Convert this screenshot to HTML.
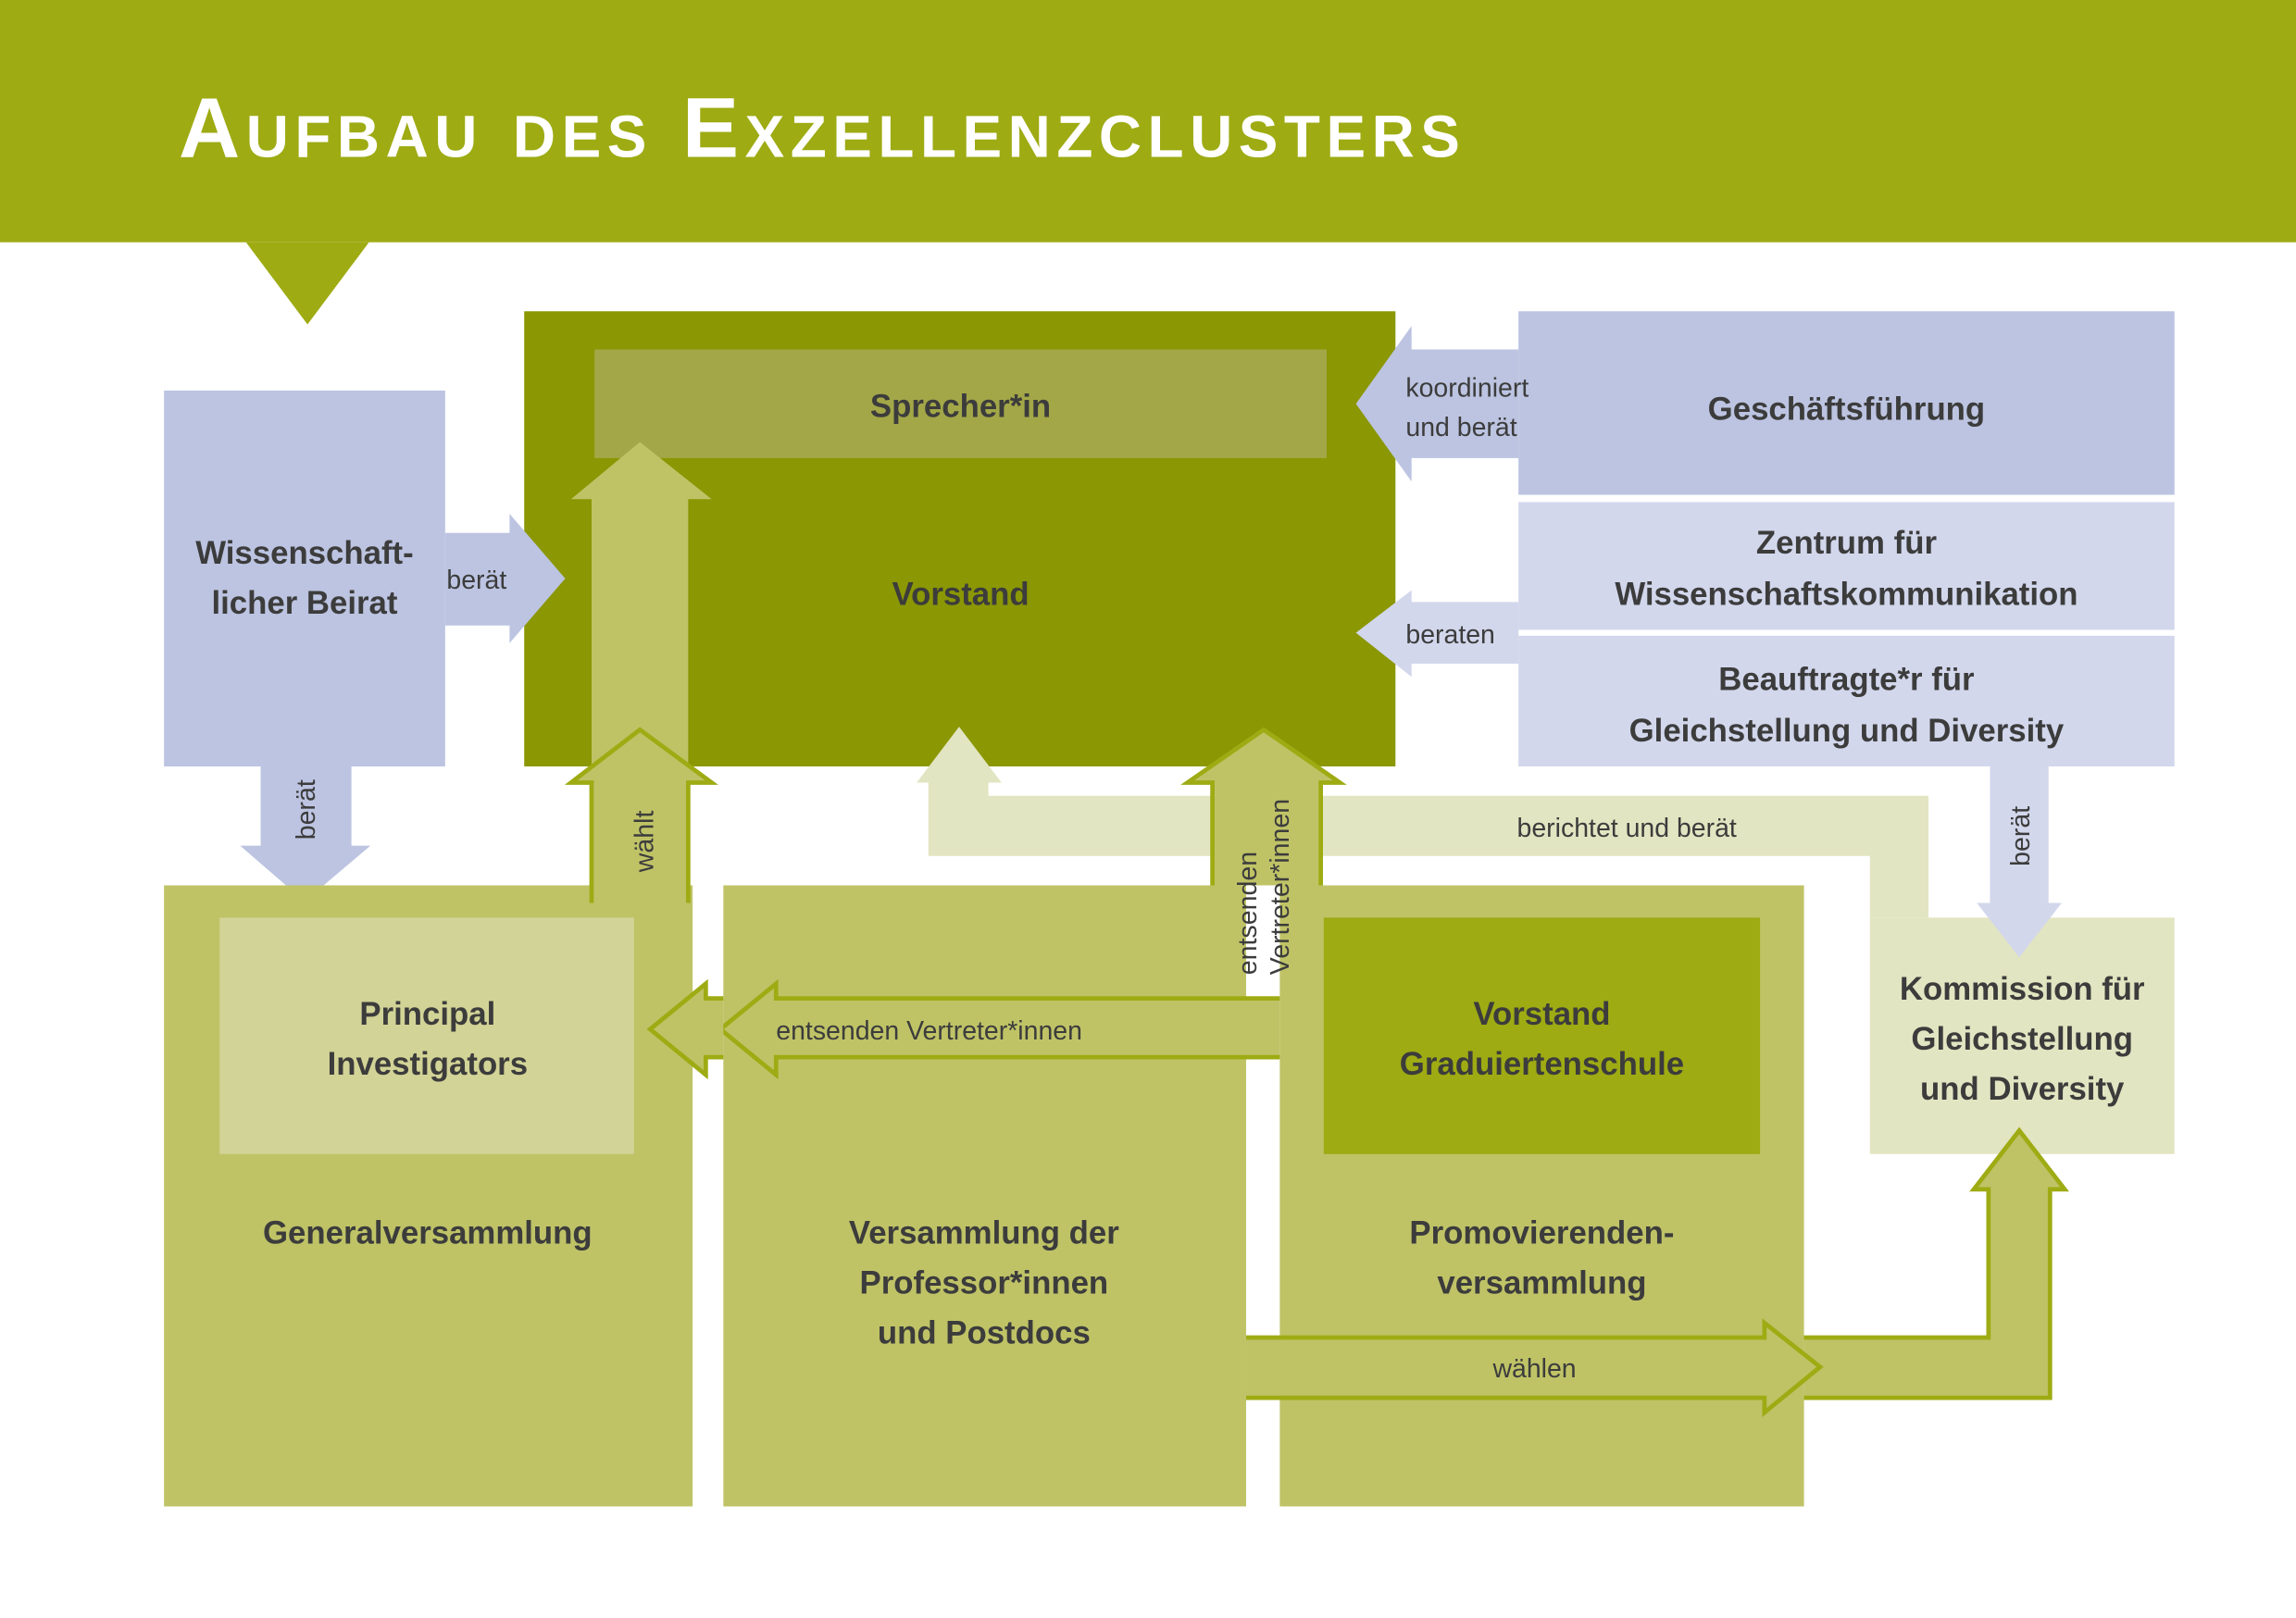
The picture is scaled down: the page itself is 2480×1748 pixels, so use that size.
<!DOCTYPE html>
<html><head><meta charset="utf-8"><style>
html,body{margin:0;padding:0;background:#fff}
svg{display:block}
text{font-family:"Liberation Sans",sans-serif;fill:#3c3c3c}
.b{font-weight:bold;font-size:22px}
.s{font-size:18px}
</style></head><body>
<svg width="2480" height="1748" viewBox="0 0 1568 1102" preserveAspectRatio="none" xmlns="http://www.w3.org/2000/svg">
<rect x="0" y="0" width="1568" height="165" fill="#9eab13"/>
<polygon points="168,165 252,165 210,221" fill="#9eab13"/>
<text x="122" y="107" textLength="875" lengthAdjust="spacing" style="font-size:58px;font-weight:bold;font-variant:small-caps;fill:#fff">Aufbau des Exzellenzclusters</text>

<!-- Vorstand -->
<rect x="358" y="212" width="595" height="310" fill="#8b9703"/>
<rect x="406" y="238" width="500" height="74" fill="#a3a747"/>
<text class="b" x="656" y="284" text-anchor="middle">Sprecher*in</text>
<text class="b" x="656" y="412" text-anchor="middle">Vorstand</text>

<!-- right blue boxes -->
<rect x="1037" y="212" width="448" height="125" fill="#bcc4e1"/>
<text class="b" x="1261" y="286" text-anchor="middle">Geschäftsführung</text>
<rect x="1037" y="342" width="448" height="87" fill="#d2d7ec"/>
<text class="b" x="1261" y="377" text-anchor="middle">Zentrum für</text>
<text class="b" x="1261" y="412" text-anchor="middle">Wissenschaftskommunikation</text>
<rect x="1037" y="433" width="448" height="89" fill="#d2d7ec"/>
<text class="b" x="1261" y="470" text-anchor="middle">Beauftragte*r für</text>
<text class="b" x="1261" y="505" text-anchor="middle">Gleichstellung und Diversity</text>

<polygon points="1037,238 964,238 964,222 926,275 964,328 964,312 1037,312" fill="#bcc4e1"/>
<text class="s" x="960" y="270">koordiniert</text>
<text class="s" x="960" y="297">und berät</text>
<polygon points="1037,410 964,410 964,402 926,431 964,461 964,452 1037,452" fill="#d2d7ec"/>
<text class="s" x="960" y="438">beraten</text>

<!-- Wiss Beirat -->
<rect x="112" y="266" width="192" height="256" fill="#bcc4e1"/>
<text class="b" x="208" y="384" text-anchor="middle">Wissenschaft-</text>
<text class="b" x="208" y="418" text-anchor="middle">licher Beirat</text>
<polygon points="304,363 348,363 348,350 386,394 348,438 348,426 304,426" fill="#bcc4e1"/>
<text class="s" x="305" y="401">berät</text>
<polygon points="178,522 240,522 240,576 253,576 208,614 164,576 178,576" fill="#bcc4e1"/>
<text class="s" transform="translate(215,572) rotate(-90)">berät</text>

<!-- berichtet path -->
<polygon points="626,533 655,495 684,533 675,533 675,542 1317,542 1317,625 1277,625 1277,583 634,583 634,533" fill="#e2e5c1"/>
<text class="s" x="1111" y="570" text-anchor="middle">berichtet und berät</text>

<!-- bottom boxes -->
<rect x="112" y="603" width="361" height="423" fill="#bfc366"/>
<rect x="150" y="625" width="283" height="161" fill="#d2d396"/>
<text class="b" x="292" y="698" text-anchor="middle">Principal</text>
<text class="b" x="292" y="732" text-anchor="middle">Investigators</text>
<text class="b" x="292" y="847" text-anchor="middle">Generalversammlung</text>

<rect x="494" y="603" width="357" height="423" fill="#bfc366"/>
<text class="b" x="672" y="847" text-anchor="middle">Versammlung der</text>
<text class="b" x="672" y="881" text-anchor="middle">Professor*innen</text>
<text class="b" x="672" y="915" text-anchor="middle">und Postdocs</text>

<rect x="874" y="603" width="358" height="423" fill="#bfc366"/>
<rect x="904" y="625" width="298" height="161" fill="#9eab13"/>
<text class="b" x="1053" y="698" text-anchor="middle">Vorstand</text>
<text class="b" x="1053" y="732" text-anchor="middle">Graduiertenschule</text>
<text class="b" x="1053" y="847" text-anchor="middle">Promovierenden-</text>
<text class="b" x="1053" y="881" text-anchor="middle">versammlung</text>

<rect x="1277" y="625" width="208" height="161" fill="#e2e5c1"/>
<text class="b" x="1381" y="681" text-anchor="middle">Kommission für</text>
<text class="b" x="1381" y="715" text-anchor="middle">Gleichstellung</text>
<text class="b" x="1381" y="749" text-anchor="middle">und Diversity</text>
<polygon points="1359,522 1399,522 1399,615 1408,615 1379,652 1350,615 1359,615" fill="#d2d7ec"/>
<text class="s" transform="translate(1386,590) rotate(-90)">berät</text>

<!-- upper arrow inside Vorstand (Sprecher) -->
<polygon points="404,522 404,340 390,340 437,301 486,340 470,340 470,522" fill="#bfc366"/>

<!-- wählt arrow -->
<polygon points="404,615 404,533 390,533 437,497 486,533 470,533 470,615" fill="#bfc366"/>
<polyline points="404,615 404,533 390,533 437,497 486,533 470,533 470,615" fill="none" stroke="#9eab13" stroke-width="3"/>
<text class="s" transform="translate(446,594) rotate(-90)">wählt</text>

<!-- entsenden vertical -->
<polygon points="828,603 828,533 811,533 863,497 915,533 902,533 902,603" fill="#bfc366"/>
<polyline points="828,603 828,533 811,533 863,497 915,533 902,533 902,603" fill="none" stroke="#9eab13" stroke-width="3"/>
<text class="s" transform="translate(858,664) rotate(-90)">entsenden</text>
<text class="s" transform="translate(880,664) rotate(-90)">Vertreter*innen</text>

<!-- entsenden horizontal -->
<polygon points="874,680 530,680 530,670 492,701 530,732 530,720 874,720" fill="#bfc366"/>
<polyline points="874,680 530,680 530,670 492,701 530,732 530,720 874,720" fill="none" stroke="#9eab13" stroke-width="3"/>
<polygon points="494,680 482,680 482,670 444,701 482,732 482,720 494,720" fill="#bfc366"/>
<polyline points="494,680 482,680 482,670 444,701 482,732 482,720 494,720" fill="none" stroke="#9eab13" stroke-width="3"/>
<text class="s" x="530" y="708">entsenden Vertreter*innen</text>

<!-- wählen connector then arrow -->
<polygon points="1232,911 1358,911 1358,810 1348,810 1379,770 1410,810 1400,810 1400,952 1232,952" fill="#bfc366"/>
<polyline points="1232,911 1358,911 1358,810 1348,810 1379,770 1410,810 1400,810 1400,952 1232,952" fill="none" stroke="#9eab13" stroke-width="3"/>
<polygon points="851,911 1205,911 1205,901 1243,931 1205,962 1205,952 851,952" fill="#bfc366"/>
<polyline points="851,911 1205,911 1205,901 1243,931 1205,962 1205,952 851,952" fill="none" stroke="#9eab13" stroke-width="3"/>
<text class="s" x="1048" y="938" text-anchor="middle">wählen</text>
</svg>
</body></html>
